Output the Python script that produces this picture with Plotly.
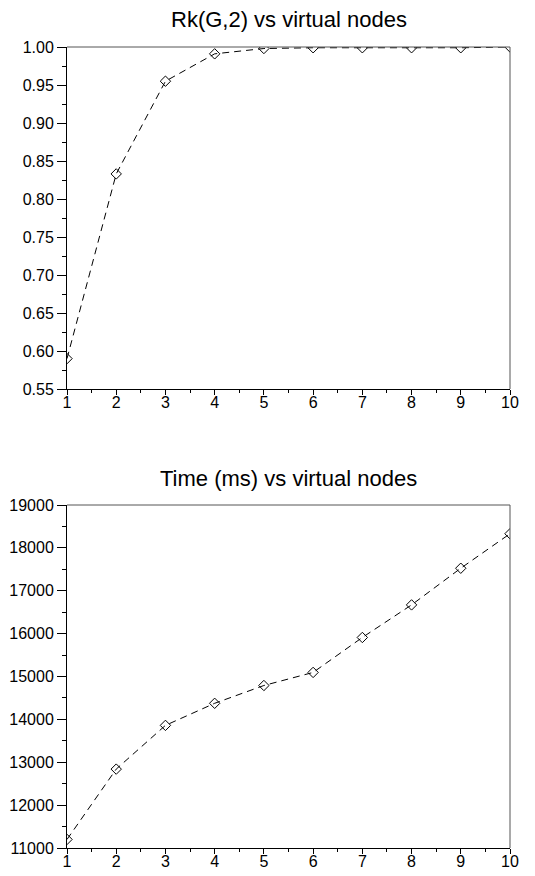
import plotly.graph_objects as go

nodes = [1, 2, 3, 4, 5, 6, 7, 8, 9, 10]
rk_values = [0.590, 0.833, 0.955, 0.991, 0.998, 0.999, 0.999, 0.999, 0.999, 1.000]
time_ms = [11200, 12840, 13860, 14375, 14790, 15095, 15910, 16670, 17525, 18330]
titles = ["Rk(G,2) vs virtual nodes", "Time (ms) vs virtual nodes"]

# the page body adds an 8px offset at top-left; size the figure to compensate
OFF = 8
W, H = 535 - OFF, 876 - OFF
L, R, T, B = 67 - OFF, 25, 47 - OFF, 28
ph = H - T - B

def frac(pix_ref):
    pix = pix_ref - OFF
    return (H - B - pix) / ph

fig = go.Figure()
font = dict(family="Liberation Sans, Arial, sans-serif", color="black")

line_style = dict(color="black", width=1, dash="7px,5px")
marker_style = dict(symbol="diamond-open", size=8, color="black", line=dict(width=1, color="black"))

fig.add_trace(go.Scatter(x=nodes, y=rk_values, mode="lines+markers", line=line_style,
                         marker=marker_style, xaxis="x", yaxis="y", showlegend=False))
fig.add_trace(go.Scatter(x=nodes, y=time_ms, mode="lines+markers", line=line_style,
                         marker=marker_style, xaxis="x2", yaxis="y2", showlegend=False))

xcommon = dict(range=[1, 10], tickmode="linear", tick0=1, dtick=1, ticks="outside",
               ticklen=5, tickwidth=1, tickcolor="black", showline=True, linecolor="black",
               linewidth=1, showgrid=False, zeroline=False, tickfont=dict(size=16, **font),
               automargin=False, ticklabelstandoff=-6,
               minor=dict(ticks="outside", ticklen=3, tickcolor="black", dtick=0.5, tick0=1, showgrid=False))
ycommon = dict(ticks="outside", ticklen=9, tickwidth=1, tickcolor="black", showline=True,
               linecolor="black", linewidth=1, showgrid=False, zeroline=False,
               automargin=False, tickfont=dict(size=16, **font))

top_dom = [frac(389), 1.0]
bot_dom = [0.0, frac(505)]

fig.update_layout(
    width=W, height=H, margin=dict(l=L, r=R, t=T, b=B, autoexpand=False),
    paper_bgcolor="white", plot_bgcolor="white",
    xaxis=dict(domain=[0, 1], anchor="y", **xcommon),
    yaxis=dict(domain=top_dom, anchor="x", range=[0.55, 1.0], tickmode="linear", tick0=0.55,
               dtick=0.05, tickformat=".2f",
               minor=dict(ticks="outside", ticklen=4, tickcolor="black", dtick=0.025, tick0=0.55, showgrid=False),
               **ycommon),
    xaxis2=dict(domain=[0, 1], anchor="y2", **xcommon),
    yaxis2=dict(domain=bot_dom, anchor="x2", range=[11000, 19000], tickmode="linear", tick0=11000,
                dtick=1000, tickformat="d",
                minor=dict(ticks="outside", ticklen=4, tickcolor="black", dtick=500, tick0=11000, showgrid=False),
                **ycommon),
    font=font,
)

# frame lines (top and right)
for xr, yr in [("x domain", "y domain"), ("x2 domain", "y2 domain")]:
    fig.add_shape(type="line", xref=xr, yref=yr, x0=0, x1=1, y0=1, y1=1,
                  line=dict(color="#555555", width=1))
    fig.add_shape(type="line", xref=xr, yref=yr, x0=1, x1=1, y0=0, y1=1,
                  line=dict(color="#555555", width=1))

cx = 0.5
fig.add_annotation(text=titles[0], xref="paper", yref="paper", x=cx, y=frac(20),
                   showarrow=False, font=dict(size=22, **font), yanchor="middle")
fig.add_annotation(text=titles[1], xref="paper", yref="paper", x=cx, y=frac(478),
                   showarrow=False, font=dict(size=22, **font), yanchor="middle")

fig.write_html("out.html")
